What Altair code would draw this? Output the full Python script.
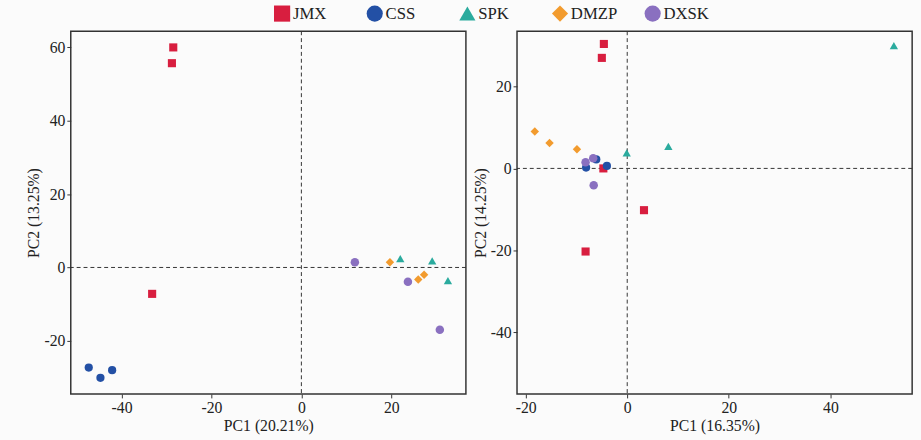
import altair as alt
import pandas as pd

groups = ["JMX", "CSS", "SPK", "DMZP", "DXSK"]
colors = ["#D81E3F", "#2350A5", "#2BAB9E", "#F29B2E", "#8A70C0"]
shapes = ["square", "circle", "triangle-up", "diamond", "circle"]
sizes = [68, 75, 150, 50, 24]

# Left panel (PC1 20.21%, PC2 13.25%)
left_group = ["JMX", "JMX", "JMX", "CSS", "CSS", "CSS", "SPK", "SPK", "SPK",
              "DMZP", "DMZP", "DMZP", "DXSK", "DXSK", "DXSK"]
left_pc1 = [-28.5, -28.8, -33.2, -47.3, -44.7, -42.1, 22.0, 29.1, 32.6,
            19.7, 26.0, 27.3, 11.9, 23.7, 30.8]
left_pc2 = [60.0, 55.7, -7.2, -27.3, -30.1, -28.0, 2.4, 1.8, -3.6,
            1.4, -3.3, -2.0, 1.4, -3.9, -17.0]

# Right panel (PC1 16.35%, PC2 14.25%)
right_group = ["JMX", "JMX", "JMX", "JMX", "JMX", "CSS", "CSS", "CSS",
               "SPK", "SPK", "SPK", "DMZP", "DMZP", "DMZP", "DXSK", "DXSK", "DXSK"]
right_pc1 = [-4.6, -5.0, -4.7, 3.3, -8.2, -8.1, -6.1, -4.0,
             -0.1, 8.1, 52.5, -18.2, -15.3, -9.9, -8.2, -6.7, -6.6]
right_pc2 = [30.4, 27.0, 0.0, -10.2, -20.3, 0.2, 2.2, 0.6,
             3.8, 5.4, 30.0, 9.0, 6.2, 4.7, 1.5, 2.5, -4.1]

# origin reference lines
origin = [0]

serif = "Liberation Serif"

color_scale = alt.Scale(domain=groups, range=colors)
shape_scale = alt.Scale(domain=groups, range=shapes)


def panel(grp, xs, ys, xdom, ydom, xticks, yticks, xtitle, ytitle):
    df = pd.DataFrame({"group": grp, "kind": grp, "pc1": xs, "pc2": ys})
    zero = pd.DataFrame({"v": origin})
    xsc = alt.Scale(domain=xdom, nice=False, zero=False)
    ysc = alt.Scale(domain=ydom, nice=False, zero=False)
    pts = alt.Chart(df).mark_point(filled=True, opacity=1).encode(
        x=alt.X("pc1:Q", scale=xsc, title=xtitle,
                axis=alt.Axis(values=xticks, labelExpr="'' + datum.value")),
        y=alt.Y("pc2:Q", scale=ysc, title=ytitle,
                axis=alt.Axis(values=yticks, labelExpr="'' + datum.value")),
        color=alt.Color("group:N", scale=color_scale, legend=None),
        shape=alt.Shape("group:N", scale=shape_scale, legend=None),
        size=alt.Size("kind:O", scale=alt.Scale(domain=groups, range=sizes), legend=None),
    )
    vline = alt.Chart(zero).mark_rule(color="#333", strokeDash=[4, 3], strokeWidth=1).encode(
        x=alt.X("v:Q", scale=xsc))
    hline = alt.Chart(zero).mark_rule(color="#333", strokeDash=[4, 3], strokeWidth=1).encode(
        y=alt.Y("v:Q", scale=ysc))
    return alt.layer(vline, hline, pts).properties(width=402, height=369)


left = panel(left_group, left_pc1, left_pc2, [-51.3, 36.6], [-34.5, 64.4],
             [-40, -20, 0, 20], [-20, 0, 20, 40, 60], "PC1 (20.21%)", "PC2 (13.25%)")
right = panel(right_group, right_pc1, right_pc2, [-21.7, 56.1], [-55.1, 33.5],
              [-20, 0, 20, 40], [-40, -20, 0, 20], "PC1 (16.35%)", "PC2 (14.25%)")

# Legend row drawn as its own small chart on a point scale of the groups
leg_df = pd.DataFrame({"group": groups})
leg_x = alt.X("group:N", sort=groups, axis=None,
              scale=alt.Scale(domain=groups, range=[215, 592], padding=0))
leg_sym = alt.Chart(leg_df).mark_point(filled=True, opacity=1, size=270).encode(
    x=leg_x, y=alt.value(9),
    color=alt.Color("group:N", scale=color_scale, legend=None),
    shape=alt.Shape("group:N", scale=shape_scale, legend=None),
)
leg_txt = alt.Chart(leg_df).mark_text(
    align="left", baseline="middle", dx=11, dy=1, font=serif, fontSize=17, color="#222"
).encode(x=leg_x, y=alt.value(9), text="group:N")
legend_row = alt.layer(leg_sym, leg_txt).properties(
    width=640, height=20,
    view=alt.ViewBackground(stroke="transparent", fill="transparent"),
)

panels = alt.hconcat(left, right, spacing=3).resolve_scale(
    x="independent", y="independent"
)

chart = alt.vconcat(legend_row, panels, spacing=4).properties(
    padding={"left": 25, "top": 0, "right": 7, "bottom": 2},
    background="#fbfbfb",
).configure_view(
    stroke="#333", strokeWidth=1.5, fill="#fbfbfb"
).configure_axis(
    grid=False, domain=False, tickColor="#333", tickSize=4, tickWidth=1,
    labelFont=serif, labelFontSize=16, labelColor="#222", labelPadding=2,
    titleFont=serif, titleFontSize=16, titleColor="#222", titleFontWeight="normal",
    titlePadding=2,
)

chart.save("out.html", embed_options={"renderer": "svg", "actions": False})
